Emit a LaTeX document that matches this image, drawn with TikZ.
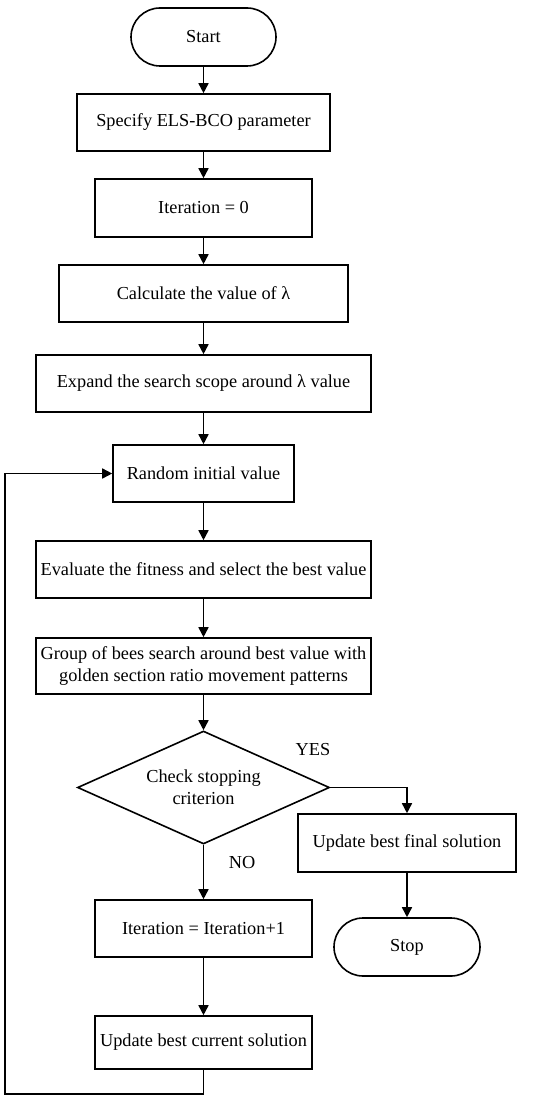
\documentclass[tikz,border=0pt]{standalone}
\usepackage{fontspec}
\setmainfont{Liberation Serif}
\usetikzlibrary{arrows.meta,shapes.geometric}
\begin{document}
\begin{tikzpicture}[x=1pt,y=-1pt,
  every node/.style={font=\fontsize{18.3}{22}\selectfont},
  box/.style={draw,line width=1.6pt,inner sep=0pt,align=center,minimum height=57pt},
  term/.style={draw,line width=1.6pt,inner sep=0pt,rounded corners=29pt,minimum height=58pt},
  dec/.style={draw,line width=1.6pt,diamond,inner sep=0pt,aspect=2.23,align=center,minimum width=252pt,minimum height=113pt},
  lbl/.style={inner sep=0pt},
  arr/.style={line width=1.6pt,-{Triangle[length=10pt,width=10pt]}}]
\useasboundingbox (0,0) rectangle (550,1102);
\node[term,minimum width=145pt] (start) at (203.5,37) {Start};
\node[box,minimum width=253pt] (spec) at (203.5,122.5) {Specify ELS-BCO parameter};
\node[box,minimum width=217pt,minimum height=58pt] (it0) at (203.5,208) {Iteration = 0};
\node[box,minimum width=289pt] (calc) at (203.5,293.5) {Calculate the value of λ};
\node[box,minimum width=335pt] (expand) at (203.5,383.5) {Expand the search scope around λ value};
\node[box,minimum width=181pt] (random) at (203.5,473.5) {Random initial value};
\node[box,minimum width=335pt] (eval) at (203.5,569.5) {Evaluate the fitness and select the best value};
\node[box,minimum width=335pt,minimum height=56pt] (group) at (203.5,666) {Group of bees search around best value with\\golden section ratio movement patterns};
\node[dec] (check) at (203.5,787.5) {Check stopping\\criterion};
\node[box,minimum width=218pt,minimum height=58pt] (final) at (407,843) {Update best final solution};
\node[term,minimum width=146pt] (stop) at (407,947) {Stop};
\node[box,minimum width=217pt] (inc) at (203.5,928.5) {Iteration = Iteration+1};
\node[box,minimum width=217pt,minimum height=53pt] (cur) at (203.5,1042.5) {Update best current solution};
\node[lbl] (yes) at (313,750) {YES};
\node[lbl] (no) at (242,863) {NO};
\coordinate (lb) at (5,1094);
\coordinate (lt) at (5,473.5);
\draw[arr] (start) -- (spec);
\draw[arr] (spec) -- (it0);
\draw[arr] (it0) -- (calc);
\draw[arr] (calc) -- (expand);
\draw[arr] (expand) -- (random);
\draw[arr] (random) -- (eval);
\draw[arr] (eval) -- (group);
\draw[arr] (group) -- (check);
\draw[arr] (check.east) -| (final.north);
\draw[arr] (final) -- (stop);
\draw[arr] (check.south) -- (inc.north);
\draw[arr] (inc) -- (cur);
\draw[arr] (cur.south) |- (lb) -- (lt) -- (random.west);
\end{tikzpicture}
\end{document}
